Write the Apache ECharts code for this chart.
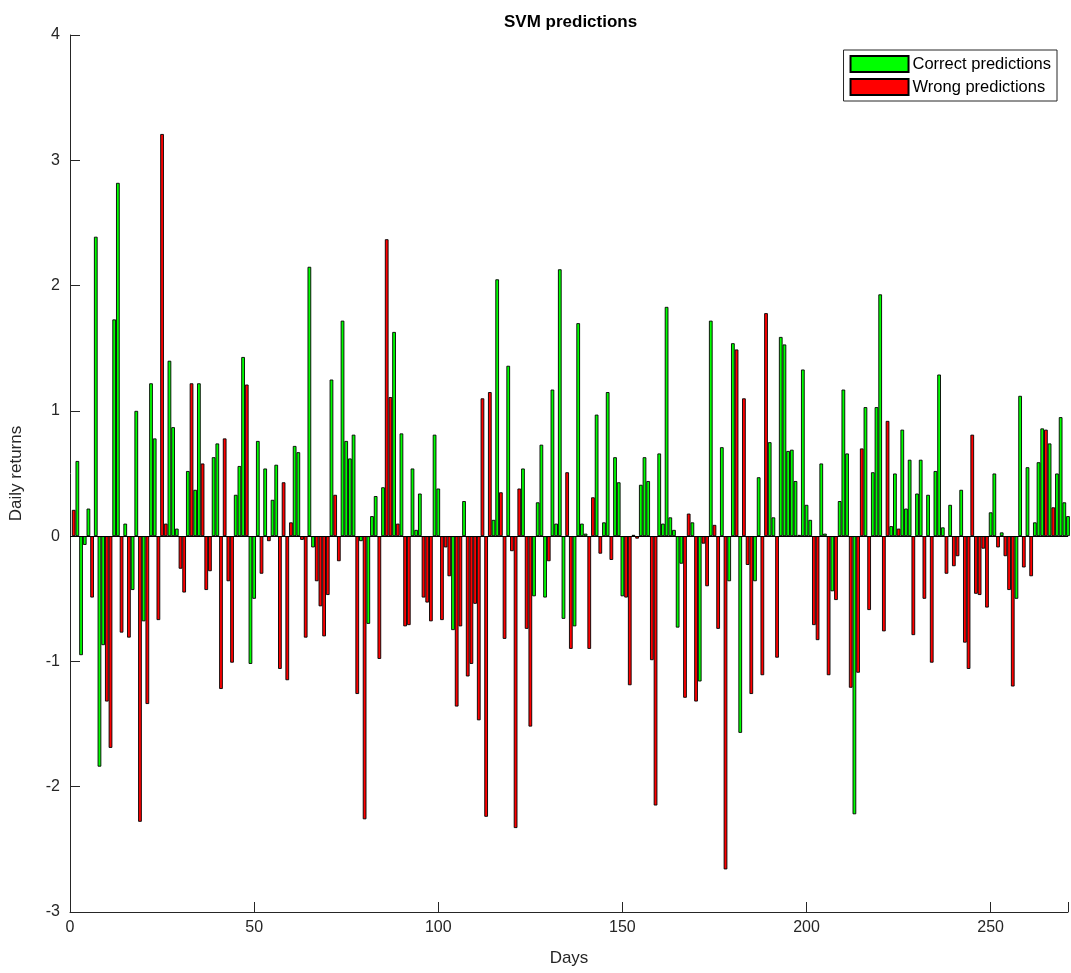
<!DOCTYPE html>
<html>
<head>
<meta charset="utf-8">
<title>SVM predictions</title>
<script src="https://cdn.jsdelivr.net/npm/echarts@6/dist/echarts.min.js"></script>
<style>
  html, body { margin: 0; padding: 0; background: #fff; }
  #chart { width: 1071px; height: 973px; }
</style>
</head>
<body>
<div id="chart"></div>
<script>
// daily returns, day 1..271
const dailyReturns = [
  0.21, 0.60, -0.95, -0.07, 0.22, -0.49, 2.39, -1.84, -0.87, -1.32,
  -1.69, 1.73, 2.82, -0.77, 0.10, -0.81, -0.43, 1.00, -2.28, -0.68,
  -1.34, 1.22, 0.78, -0.67, 3.21, 0.10, 1.40, 0.87, 0.06, -0.26,
  -0.45, 0.52, 1.22, 0.37, 1.22, 0.58, -0.43, -0.28, 0.63, 0.74,
  -1.22, 0.78, -0.36, -1.01, 0.33, 0.56, 1.43, 1.21, -1.02, -0.50,
  0.76, -0.30, 0.54, -0.04, 0.29, 0.57, -1.06, 0.43, -1.15, 0.11,
  0.72, 0.67, -0.03, -0.81, 2.15, -0.09, -0.36, -0.56, -0.80, -0.47,
  1.25, 0.33, -0.20, 1.72, 0.76, 0.62, 0.81, -1.26, -0.04, -2.26,
  -0.70, 0.16, 0.32, -0.98, 0.39, 2.37, 1.11, 1.63, 0.10, 0.82,
  -0.72, -0.71, 0.54, 0.05, 0.34, -0.49, -0.53, -0.68, 0.81, 0.38,
  -0.67, -0.09, -0.32, -0.75, -1.36, -0.72, 0.28, -1.12, -1.02, -0.54,
  -1.47, 1.10, -2.24, 1.15, 0.13, 2.05, 0.35, -0.82, 1.36, -0.12,
  -2.33, 0.38, 0.54, -0.74, -1.52, -0.48, 0.27, 0.73, -0.49, -0.20,
  1.17, 0.10, 2.13, -0.66, 0.51, -0.90, -0.72, 1.70, 0.10, 0.02,
  -0.90, 0.31, 0.97, -0.14, 0.11, 1.15, -0.19, 0.63, 0.43, -0.48,
  -0.49, -1.19, 0.01, -0.02, 0.41, 0.63, 0.44, -0.99, -2.15, 0.66,
  0.10, 1.83, 0.15, 0.05, -0.73, -0.22, -1.29, 0.18, 0.11, -1.32,
  -1.16, -0.06, -0.40, 1.72, 0.09, -0.74, 0.71, -2.66, -0.36, 1.54,
  1.49, -1.57, 1.10, -0.23, -1.26, -0.36, 0.47, -1.11, 1.78, 0.75,
  0.15, -0.97, 1.59, 1.53, 0.68, 0.69, 0.44, 0.01, 1.33, 0.25,
  0.13, -0.71, -0.83, 0.58, 0.02, -1.11, -0.44, -0.51, 0.28, 1.17,
  0.66, -1.21, -2.22, -1.09, 0.70, 1.03, -0.59, 0.51, 1.03, 1.93,
  -0.76, 0.92, 0.08, 0.50, 0.06, 0.85, 0.22, 0.61, -0.79, 0.34,
  0.61, -0.50, 0.33, -1.01, 0.52, 1.29, 0.07, -0.30, 0.25, -0.24,
  -0.16, 0.37, -0.85, -1.06, 0.81, -0.46, -0.47, -0.10, -0.57, 0.19,
  0.50, -0.09, 0.03, -0.16, -0.43, -1.20, -0.50, 1.12, -0.25, 0.55,
  -0.32, 0.11, 0.59, 0.86, 0.85, 0.74, 0.23, 0.50, 0.95, 0.27,
  0.16
];

// 1 = correct prediction, 0 = wrong prediction
const correctFlags = [
  0,1,1,1,1,0,1,1,1,0, 0,1,1,0,1,0,1,1,0,1,
  0,1,1,0,0,0,1,1,1,0, 0,1,0,1,1,0,0,0,1,1,
  0,0,0,0,1,1,1,0,1,1, 1,0,1,0,1,1,0,0,0,0,
  1,1,0,0,1,1,0,0,0,0, 1,0,0,1,1,1,1,0,1,0,
  1,1,1,0,1,0,0,1,0,1, 0,0,1,1,1,0,0,0,1,1,
  0,0,0,1,0,0,1,0,0,0, 0,0,0,0,1,1,0,0,1,0,
  0,0,1,0,0,1,1,1,1,0, 1,1,1,1,0,0,1,1,1,1,
  0,0,1,0,1,1,0,1,1,1, 0,0,1,0,1,1,1,0,0,1,
  1,1,1,1,1,1,0,0,1,0, 1,0,0,1,0,0,1,0,1,1,
  0,1,0,0,0,1,1,0,0,1, 1,0,1,1,1,1,1,1,1,1,
  1,0,0,1,1,0,1,0,1,1, 1,0,1,0,0,1,0,1,1,1,
  0,0,1,1,0,1,1,1,0,1, 1,0,1,0,1,1,1,0,1,0,
  0,1,0,0,0,0,0,0,0,1, 1,0,1,0,0,0,1,1,0,1,
  0,1,1,1,0,1,0,1,1,1, 1
];

const seriesNames = ['Correct predictions', 'Wrong predictions'];
const xTicks = [0, 50, 100, 150, 200, 250];

const correctData = [];
const wrongData = [];
dailyReturns.forEach((v, i) => {
  if (correctFlags[i]) correctData.push([i + 1, v]);
  else wrongData.push([i + 1, v]);
});

const font = 'Liberation Sans, Arial, Helvetica, sans-serif';
const axisColor = '#262626';

const chart = echarts.init(document.getElementById('chart'));
chart.setOption({
  animation: false,
  backgroundColor: '#fff',
  title: {
    text: 'SVM predictions',
    left: 499,
    top: 9,
    textStyle: { fontFamily: font, fontSize: 17, fontWeight: 'bold', color: '#000' }
  },
  legend: {
    data: seriesNames,
    orient: 'vertical',
    right: 14,
    top: 50,
    itemWidth: 58,
    itemHeight: 16,
    itemGap: 5,
    padding: [5, 6, 5, 6],
    borderColor: '#262626',
    borderWidth: 1,
    backgroundColor: '#fff',
    icon: 'rect',
    textStyle: { fontFamily: font, fontSize: 16.5, color: '#000', padding: [0, 0, 0, -1] }
  },
  grid: { left: 65, right: 1, top: 35, bottom: 61, containLabel: false },
  xAxis: {
    type: 'value',
    min: 0,
    max: 271,
    interval: 50,
    name: 'Days',
    nameLocation: 'middle',
    nameGap: 38,
    nameTextStyle: { fontFamily: font, fontSize: 17, color: axisColor },
    axisLine: { onZero: false, lineStyle: { color: axisColor, width: 1 } },
    axisTick: { inside: true, length: 10, lineStyle: { color: axisColor } },
    axisLabel: {
      fontFamily: font, fontSize: 16, color: axisColor, margin: 8,
      formatter: v => (xTicks.indexOf(v) >= 0 ? String(v) : '')
    },
    splitLine: { show: false }
  },
  yAxis: {
    type: 'value',
    min: -3,
    max: 4,
    interval: 1,
    name: 'Daily returns',
    nameLocation: 'middle',
    nameGap: 45,
    nameTextStyle: { fontFamily: font, fontSize: 17, color: axisColor },
    axisLine: { show: true, lineStyle: { color: axisColor, width: 1 } },
    axisTick: { show: true, inside: true, length: 10, lineStyle: { color: axisColor } },
    axisLabel: { fontFamily: font, fontSize: 16, color: axisColor, margin: 10 },
    splitLine: { show: false }
  },
  series: [
    {
      name: seriesNames[0],
      type: 'bar',
      data: correctData,
      barWidth: 3.7,
      barGap: '-100%',
      itemStyle: { color: '#00ff00', borderColor: '#000', borderWidth: 0.9 },
      markLine: {
        silent: true,
        symbol: 'none',
        label: { show: false },
        lineStyle: { color: '#000', width: 1, type: 'solid' },
        data: [{ yAxis: 0 }]
      }
    },
    {
      name: seriesNames[1],
      type: 'bar',
      data: wrongData,
      barWidth: 3.7,
      barGap: '-100%',
      itemStyle: { color: '#ff0000', borderColor: '#000', borderWidth: 0.9 }
    }
  ]
});
</script>
</body>
</html>
